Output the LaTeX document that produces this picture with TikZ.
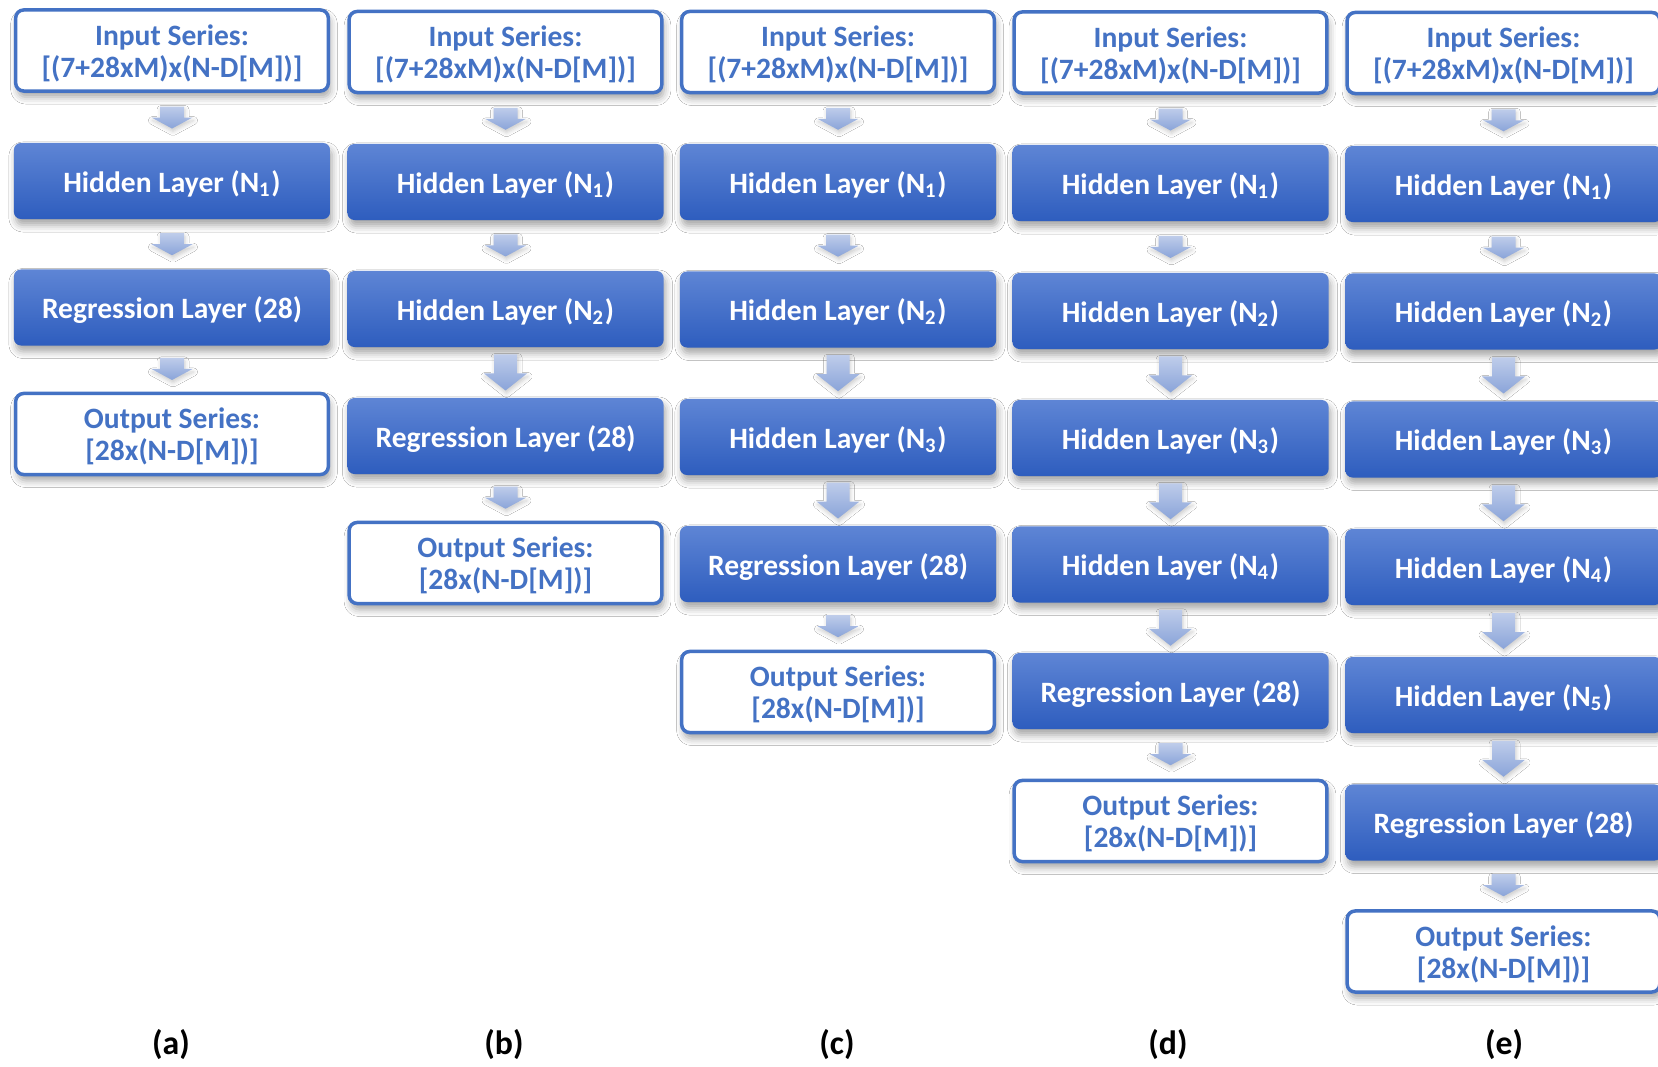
\documentclass[tikz,border=0pt]{standalone}
\usepackage{fontspec}
\setmainfont{Carlito}
\usetikzlibrary{calc,shadows.blur}

\definecolor{accent}{RGB}{68,114,196}
\definecolor{layertop}{RGB}{94,133,213}
\definecolor{layerbot}{RGB}{46,93,190}
\definecolor{arrtop}{RGB}{190,204,234}
\definecolor{arrbot}{RGB}{138,164,217}

\newcommand\boxfont{\fontsize{8.4}{10}\selectfont}
\newcommand\seriesfont{\fontsize{8.4}{9}\selectfont}
\newcommand\tagfont{\fontsize{9.6}{11}\selectfont}

\tikzset{
  softshadow/.style={blur shadow={shadow xshift=0.02cm, shadow yshift=-0.06cm,
      shadow blur radius=0.07cm, shadow opacity=35}},
  layer/.style={rounded corners=0.07cm, minimum width=3.16cm, minimum height=0.76cm,
      text height=6.8pt, text depth=0.3pt,
      top color=layertop, bottom color=layerbot, text=white,
      font=\bfseries\boxfont, softshadow},
  series/.style={rounded corners=0.08cm, draw=accent, line width=0.035cm, fill=white,
      minimum width=3.125cm, minimum height=0.81cm, text=accent, align=center,
      text height=15.4pt, text depth=0.3pt,
      font=\bfseries\seriesfont, softshadow},
  tag/.style={font=\bfseries\tagfont, text=black},
  arrowbody/.style={top color=arrtop, bottom color=arrbot,
      blur shadow={shadow xshift=0.01cm, shadow yshift=-0.03cm,
      shadow blur radius=0.04cm, shadow opacity=20}},
  smallarr/.pic={\shade[arrowbody] (-12,-11) -- (12,-11) -- (12,0) -- (20.5,0)
      -- (0,11) -- (-20.5,0) -- (-12,0) -- cycle;},
  largearr/.pic={\shade[arrowbody] (-11.5,-18) -- (11.5,-18) -- (11.5,1) -- (21.5,1)
      -- (0,18) -- (-21.5,1) -- (-11.5,1) -- cycle;},
}

\newcommand\insrc{Input Series:\\{[}(7+28xM)x(N-D{[}M{]})]}
\newcommand\outsrc{Output Series:\\{[}28x(N-D{[}M{]})]}
\newcommand\hid[1]{Hidden Layer (N\textsubscript{#1})}
\newcommand\reglayer{Regression Layer (28)}

\begin{document}
\begin{tikzpicture}[x=0.01cm, y=-0.01cm]
  \useasboundingbox (0,0) rectangle (1658,1067);
  \fill[white] (0,0) rectangle (1658,1067);

  % (a) one hidden layer
  \node[series] (a0) at (172,50.5) {\insrc};
  \node[layer]  (a1) at (172,181)  {\hid{1}};
  \node[layer]  (a2) at (172,307.5) {\reglayer};
  \node[series] (a3) at (172,434)  {\outsrc};

  % (b) two hidden layers
  \node[series] (b0) at (505.5,52)  {\insrc};
  \node[layer]  (b1) at (505.5,182) {\hid{1}};
  \node[layer]  (b2) at (505.5,309) {\hid{2}};
  \node[layer]  (b3) at (505.5,436) {\reglayer};
  \node[series] (b4) at (505.5,563) {\outsrc};

  % (c) three hidden layers
  \node[series] (c0) at (838,52)    {\insrc};
  \node[layer]  (c1) at (838,182)   {\hid{1}};
  \node[layer]  (c2) at (838,309.5) {\hid{2}};
  \node[layer]  (c3) at (838,437)   {\hid{3}};
  \node[layer]  (c4) at (838,564)   {\reglayer};
  \node[series] (c5) at (838,692)   {\outsrc};

  % (d) four hidden layers
  \node[series] (d0) at (1170.5,52.5)  {\insrc};
  \node[layer]  (d1) at (1170.5,183)   {\hid{1}};
  \node[layer]  (d2) at (1170.5,311)   {\hid{2}};
  \node[layer]  (d3) at (1170.5,438)   {\hid{3}};
  \node[layer]  (d4) at (1170.5,564.5) {\hid{4}};
  \node[layer]  (d5) at (1170.5,691)   {\reglayer};
  \node[series] (d6) at (1170.5,821)   {\outsrc};

  % (e) five hidden layers
  \node[series] (e0) at (1503.5,53)    {\insrc};
  \node[layer]  (e1) at (1503.5,184)   {\hid{1}};
  \node[layer]  (e2) at (1503.5,311.5) {\hid{2}};
  \node[layer]  (e3) at (1503.5,439.5) {\hid{3}};
  \node[layer]  (e4) at (1503.5,567)   {\hid{4}};
  \node[layer]  (e5) at (1503.5,695)   {\hid{5}};
  \node[layer]  (e6) at (1503.5,822.5) {\reglayer};
  \node[series] (e7) at (1503.5,951.5) {\outsrc};

  % block arrows between consecutive stages
  \foreach \u/\v in {a0/a1,a1/a2,a2/a3, b0/b1,b1/b2,b3/b4, c0/c1,c1/c2,c4/c5,
                     d0/d1,d1/d2,d5/d6, e0/e1,e1/e2,e6/e7}
    \pic at ($(\u.south)!.5!(\v.north)$) {smallarr};
  \foreach \u/\v in {b2/b3, c2/c3,c3/c4, d2/d3,d3/d4,d4/d5, e2/e3,e3/e4,e4/e5,e5/e6}
    \pic at ($(\u.south)!.5!(\v.north)$) {largearr};

  % panel captions
  \node[tag] (ta) at (171,1045)  {(a)};
  \node[tag] (tb) at (504,1045)  {(b)};
  \node[tag] (tc) at (837,1045)  {(c)};
  \node[tag] (td) at (1168,1045) {(d)};
  \node[tag] (te) at (1504,1045) {(e)};
\end{tikzpicture}
\end{document}
